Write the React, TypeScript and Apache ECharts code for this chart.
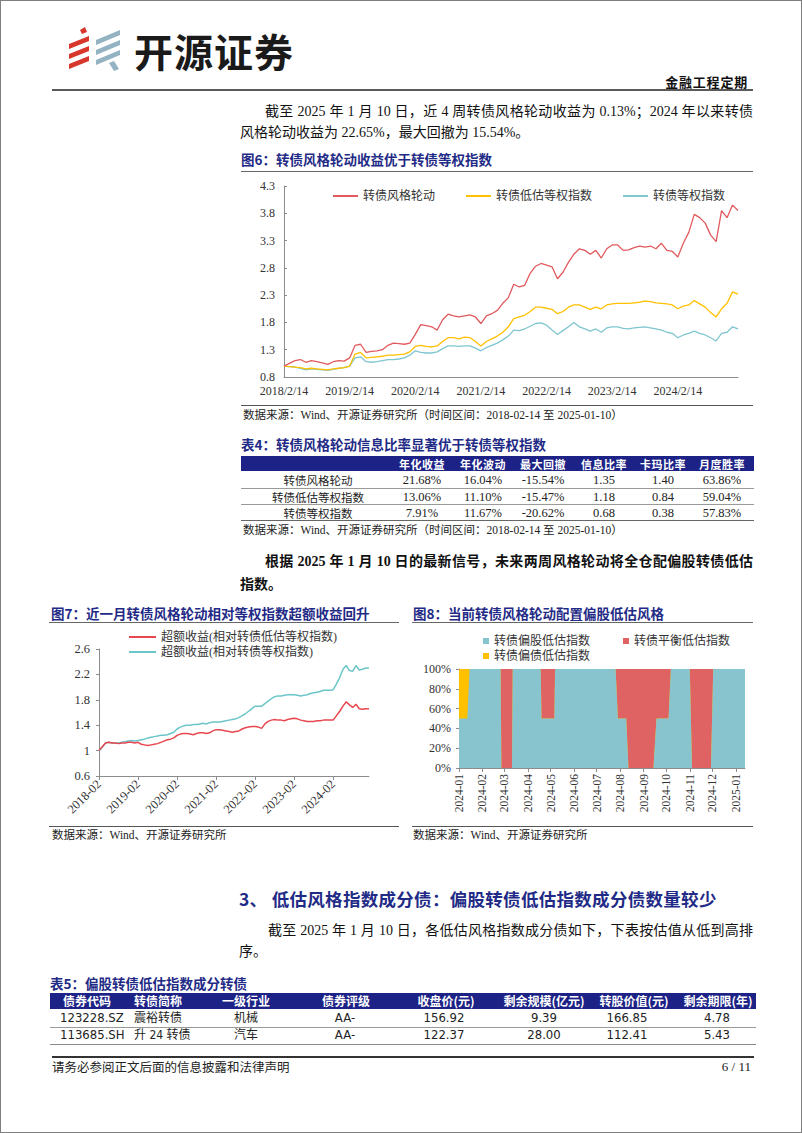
import React, { useEffect, useRef } from 'react';
import * as echarts from 'echarts';

const SERIF = "'Liberation Serif','Times New Roman','Noto Sans CJK SC',serif";
const CJK = "'Noto Sans CJK SC','Liberation Serif',sans-serif";
const NARROW = "'Liberation Sans Narrow','DejaVu Sans Condensed','Liberation Sans','Noto Sans CJK SC',sans-serif";
const NAVY = '#1F2B86';
const BAR = '#1D2286';

// ---------------- Figure 6 data (monthly, from 2018-02) ----------------
const fig6StartMonth = '2018-02';
const fig6Names = ['转债风格轮动', '转债低估等权指数', '转债等权指数'];
const fig6Rotation = [
  1.00, 1.05, 1.10, 1.12, 1.07, 1.10, 1.08, 1.06, 1.03, 1.08, 1.10,
  1.09, 1.15, 1.38, 1.40, 1.25, 1.27, 1.28, 1.30, 1.38, 1.42, 1.41, 1.40,
  1.42, 1.58, 1.76, 1.74, 1.72, 1.66, 1.85, 1.95, 1.92, 1.90, 1.92, 1.94,
  1.90, 1.78, 1.92, 1.96, 2.02, 2.15, 2.25, 2.50, 2.45, 2.48, 2.70, 2.83,
  2.88, 2.85, 2.82, 2.60, 2.72, 2.90, 3.05, 3.15, 3.12, 3.05, 3.12, 2.98,
  3.15, 3.22, 3.22, 3.12, 3.13, 3.17, 3.20, 3.18, 3.20, 3.15, 3.25, 3.12,
  3.10, 3.00, 3.25, 3.45, 3.78, 3.72, 3.62, 3.40, 3.28, 3.85, 3.72, 3.95,
  3.85,
];
const fig6LowValue = [
  1.00, 0.99, 0.98, 0.97, 0.95, 0.96, 0.95, 0.94, 0.93, 0.95, 0.96,
  0.97, 1.00, 1.22, 1.25, 1.15, 1.16, 1.17, 1.18, 1.20, 1.20, 1.21, 1.22,
  1.26, 1.36, 1.38, 1.36, 1.35, 1.37, 1.45, 1.52, 1.52, 1.50, 1.53, 1.52,
  1.45, 1.37, 1.45, 1.50, 1.55, 1.62, 1.72, 1.87, 1.90, 1.93, 2.00, 2.08,
  2.08, 2.06, 2.04, 1.96, 2.00, 2.08, 2.12, 2.12, 2.08, 2.04, 2.08, 2.05,
  2.12, 2.14, 2.15, 2.15, 2.15, 2.16, 2.17, 2.19, 2.18, 2.16, 2.15, 2.14,
  2.12, 2.05, 2.10, 2.12, 2.20, 2.14, 2.08, 1.98, 1.90, 2.05, 2.15, 2.36,
  2.32,
];
const fig6Equal = [
  1.00, 0.99, 0.98, 0.96, 0.93, 0.95, 0.94, 0.93, 0.92, 0.94, 0.96,
  0.97, 1.00, 1.15, 1.17, 1.08, 1.07, 1.08, 1.10, 1.12, 1.12, 1.13, 1.15,
  1.20, 1.28, 1.25, 1.24, 1.24, 1.26, 1.32, 1.37, 1.37, 1.36, 1.37, 1.37,
  1.33, 1.28, 1.34, 1.38, 1.42, 1.48, 1.55, 1.66, 1.65, 1.68, 1.73, 1.78,
  1.79, 1.75, 1.66, 1.58, 1.65, 1.72, 1.80, 1.72, 1.68, 1.64, 1.68, 1.62,
  1.70, 1.72, 1.72, 1.69, 1.68, 1.70, 1.71, 1.72, 1.70, 1.68, 1.66, 1.62,
  1.60, 1.52, 1.57, 1.60, 1.64, 1.60, 1.57, 1.52, 1.46, 1.60, 1.62, 1.72,
  1.68,
];
const fig6Ticks = [0.8, 1.3, 1.8, 2.3, 2.8, 3.3, 3.8, 4.3];

// ---------------- Figure 7 data (monthly, from 2018-02) ----------------
const fig7Names = ['超额收益(相对转债低估等权指数)', '超额收益(相对转债等权指数)'];
const fig7VsLowValue = [
  1.00, 1.06, 1.12, 1.13, 1.12, 1.12, 1.11, 1.12, 1.12, 1.13, 1.13,
  1.12, 1.13, 1.10, 1.09, 1.08, 1.09, 1.10, 1.11, 1.13, 1.15, 1.17, 1.18,
  1.20, 1.24, 1.26, 1.27, 1.27, 1.26, 1.25, 1.27, 1.28, 1.28, 1.27, 1.28,
  1.31, 1.33, 1.33, 1.32, 1.31, 1.30, 1.29, 1.30, 1.31, 1.34, 1.36, 1.37,
  1.38, 1.38, 1.37, 1.35, 1.42, 1.46, 1.48, 1.49, 1.48, 1.48, 1.47, 1.49,
  1.50, 1.51, 1.50, 1.48, 1.47, 1.46, 1.46, 1.46, 1.47, 1.47, 1.48, 1.48,
  1.48, 1.48, 1.55, 1.62, 1.70, 1.77, 1.72, 1.68, 1.73, 1.66, 1.65, 1.66,
  1.66,
];
const fig7VsEqual = [
  1.00, 1.05, 1.12, 1.13, 1.12, 1.12, 1.12, 1.13, 1.14, 1.15, 1.16,
  1.15, 1.16, 1.17, 1.18, 1.20, 1.21, 1.22, 1.23, 1.24, 1.24, 1.25, 1.27,
  1.29, 1.34, 1.37, 1.39, 1.40, 1.40, 1.41, 1.41, 1.42, 1.43, 1.42, 1.44,
  1.45, 1.45, 1.45, 1.46, 1.47, 1.48, 1.49, 1.50, 1.52, 1.55, 1.58, 1.62,
  1.66, 1.70, 1.70, 1.70, 1.74, 1.78, 1.82, 1.85, 1.86, 1.86, 1.87, 1.88,
  1.88, 1.88, 1.87, 1.86, 1.87, 1.88, 1.90, 1.91, 1.92, 1.93, 1.95, 1.95,
  1.95, 1.96, 2.05, 2.15, 2.28, 2.34, 2.26, 2.25, 2.34, 2.27, 2.28, 2.30,
  2.30,
];
const fig7Ticks = [0.6, 1, 1.4, 1.8, 2.2, 2.6];

// ---------------- Figure 8 data (allocation periods) ----------------
const fig8Names = ['转债偏股低估指数', '转债平衡低估指数', '转债偏债低估指数'];
const fig8PeriodStart = ['2024-01-01', '2024-01-15', '2024-02-26', '2024-03-12', '2024-04-19', '2024-05-07', '2024-07-29', '2024-08-12', '2024-09-18', '2024-10-07', '2024-11-04', '2024-12-02'];
const fig8PeriodEnd = ['2024-01-12', '2024-02-25', '2024-03-11', '2024-04-18', '2024-05-06', '2024-07-26', '2024-08-09', '2024-09-14', '2024-10-04', '2024-11-01', '2024-11-29', '2025-01-13'];
const fig8Stock = [50, 100, 0, 100, 50, 100, 50, 0, 50, 100, 0, 100];
const fig8Balance = [0, 0, 100, 0, 50, 0, 50, 100, 50, 0, 100, 0];
const fig8Debt = [50, 0, 0, 0, 0, 0, 0, 0, 0, 0, 0, 0];
const fig8MonthLabels = ['2024-01', '2024-02', '2024-03', '2024-04', '2024-05', '2024-06', '2024-07', '2024-08', '2024-09', '2024-10', '2024-11', '2024-12', '2025-01'];
const fig8AxisEnd = '2025-01-13';

// ---------------- Table 4 ----------------
const t4Headers = ['年化收益', '年化波动', '最大回撤', '信息比率', '卡玛比率', '月度胜率'];
const t4Names = ['转债风格轮动', '转债低估等权指数', '转债等权指数'];
const t4Values = [
  ['21.68%', '16.04%', '-15.54%', '1.35', '1.40', '63.86%'],
  ['13.06%', '11.10%', '-15.47%', '1.18', '0.84', '59.04%'],
  ['7.91%', '11.67%', '-20.62%', '0.68', '0.38', '57.83%'],
];

// ---------------- Table 5 ----------------
const t5Headers = ['债券代码', '转债简称', '一级行业', '债券评级', '收盘价(元)', '剩余规模(亿元)', '转股价值(元)', '剩余期限(年)'];
const t5Rows = [
  ['123228.SZ', '震裕转债', '机械', 'AA-', '156.92', '9.39', '166.85', '4.78'],
  ['113685.SH', '升 24 转债', '汽车', 'AA-', '122.37', '28.00', '112.41', '5.43'],
];

// ---------------- helpers ----------------
function monthSeq(start: string, n: number): string[] {
  let [y, m] = start.split('-').map(Number);
  const out: string[] = [];
  for (let i = 0; i < n; i++) {
    out.push(`${y}-${String(m).padStart(2, '0')}`);
    m++;
    if (m > 12) { m = 1; y++; }
  }
  return out;
}
function dayOf(s: string): number {
  const [y, m, d] = s.split('-').map(Number);
  return Math.round((Date.UTC(y, m - 1, d) - Date.UTC(2024, 0, 1)) / 86400000);
}

function EChart({ option, style }: { option: any; style: React.CSSProperties }) {
  const ref = useRef<HTMLDivElement>(null);
  useEffect(() => {
    const chart = echarts.init(ref.current!, null, { renderer: 'svg' });
    chart.setOption(option);
    return () => chart.dispose();
  }, []);
  return <div ref={ref} style={{ position: 'absolute', ...style }} />;
}

function Txt({ x, y, children, align = 'left', w = 300, lh = 20, style }: any) {
  let left = x;
  if (align === 'center') left = x - w / 2;
  if (align === 'right') left = x - w;
  return (
    <div style={{ position: 'absolute', left, top: y - lh / 2, width: align === 'left' ? undefined : w, height: lh, lineHeight: lh + 'px', textAlign: align, whiteSpace: 'nowrap', ...style }}>
      {children}
    </div>
  );
}
function JLine({ x, y, w, children, style }: any) {
  return (
    <div style={{ position: 'absolute', left: x, top: y - 11, width: w, height: 22, lineHeight: '22px', textAlign: 'justify', textAlignLast: 'justify' as any, overflow: 'visible', ...style }}>
      {children}
    </div>
  );
}
function Rule({ x, y, w, h = 1, color = '#555' }: any) {
  return <div style={{ position: 'absolute', left: x, top: y, width: w, height: h, background: color }} />;
}

// ---------------- chart options ----------------
const months6 = monthSeq(fig6StartMonth, fig6Rotation.length);
const fig6Colors = ['#E15A5E', '#FFC000', '#7FC6CF'];
const option6 = {
  animation: false,
  textStyle: { fontFamily: SERIF },
  grid: { left: 43, right: 15, top: 13, bottom: 26 },
  legend: {
    data: fig6Names, left: 87, top: 12, icon: 'rect', itemWidth: 25, itemHeight: 2, itemGap: 31,
    textStyle: { fontFamily: SERIF, fontSize: 12, color: '#333' },
  },
  xAxis: {
    type: 'category', data: months6, boundaryGap: false,
    axisLine: { lineStyle: { color: '#8c8c8c' } }, axisTick: { show: false },
    axisLabel: {
      interval: 11, margin: 8, fontSize: 12, color: '#333', fontFamily: SERIF,
      formatter: (v: string) => { const [y, m] = v.split('-'); return `${y}/${Number(m)}/14`; },
    },
  },
  yAxis: {
    type: 'value', min: 0.8, max: 4.3,
    axisLine: { show: true, lineStyle: { color: '#8c8c8c' } },
    axisTick: { show: true, inside: true, length: 3, customValues: fig6Ticks, lineStyle: { color: '#8c8c8c' } },
    axisLabel: { customValues: fig6Ticks, fontSize: 12, color: '#333', margin: 9, fontFamily: SERIF, formatter: (v: number) => v.toFixed(1) },
    splitLine: { show: false },
  },
  series: [fig6Rotation, fig6LowValue, fig6Equal].map((d, i) => ({
    name: fig6Names[i], type: 'line', data: d, symbol: 'none', color: fig6Colors[i],
    lineStyle: { width: 1.3, color: fig6Colors[i] }, z: 3 - i,
  })),
};

const fig7Colors = ['#E8474F', '#6CC6C9'];
const option7 = {
  animation: false,
  textStyle: { fontFamily: SERIF },
  grid: { left: 48, right: 30, top: 25, bottom: 50 },
  legend: {
    data: fig7Names, orient: 'vertical', left: 73, top: 2, icon: 'rect', itemWidth: 27, itemHeight: 2, itemGap: 3,
    textStyle: { fontFamily: SERIF, fontSize: 12, color: '#333', lineHeight: 12 },
  },
  xAxis: {
    type: 'category', data: months6, boundaryGap: false,
    axisLine: { lineStyle: { color: '#8c8c8c' } },
    axisTick: { show: true, interval: 11, length: 4, lineStyle: { color: '#8c8c8c' } },
    axisLabel: { interval: 11, rotate: 45, margin: 6, fontSize: 12.5, color: '#333', fontFamily: SERIF },
  },
  yAxis: {
    type: 'value', min: 0.6, max: 2.6,
    axisLine: { show: true, lineStyle: { color: '#8c8c8c' } },
    axisTick: { show: true, length: 3, customValues: fig7Ticks, lineStyle: { color: '#8c8c8c' } },
    axisLabel: { customValues: fig7Ticks, fontSize: 12.5, color: '#333', margin: 9, fontFamily: SERIF, formatter: (v: number) => String(v) },
    splitLine: { show: false },
  },
  series: [fig7VsLowValue, fig7VsEqual].map((d, i) => ({
    name: fig7Names[i], type: 'line', data: d, symbol: 'none', color: fig7Colors[i],
    lineStyle: { width: 1.5, color: fig7Colors[i] }, z: 3 - i,
  })),
};

const fig8Colors: Record<string, string> = { '转债偏股低估指数': '#88C4CD', '转债平衡低估指数': '#E06363', '转债偏债低估指数': '#FFC000' };
const fig8Points = (vals: number[]) =>
  fig8PeriodStart.flatMap((s, i) => [[dayOf(s), vals[i]], [dayOf(fig8PeriodEnd[i]), vals[i]]]);
const fig8TopBalance = fig8Stock.map((b, i) => b + fig8Debt[i] + fig8Balance[i]);
const fig8TopDebt = fig8Stock.map((b, i) => b + fig8Debt[i]);
const fig8MonthDays = fig8MonthLabels.map((l) => dayOf(l + '-01'));
const fig8Layers: [string, number[]][] = [
  ['转债平衡低估指数', fig8TopBalance],
  ['转债偏债低估指数', fig8TopDebt],
  ['转债偏股低估指数', fig8Stock],
];
const option8 = {
  animation: false,
  textStyle: { fontFamily: SERIF },
  grid: { left: 46, right: 8, top: 45, bottom: 58 },
  legend: [
    { data: [fig8Names[0], fig8Names[1]], left: 65, top: 6, icon: 'rect', itemWidth: 6, itemHeight: 6, itemGap: 33, textStyle: { fontFamily: SERIF, fontSize: 12, color: '#333' } },
    { data: [fig8Names[2]], left: 65, top: 21, icon: 'rect', itemWidth: 6, itemHeight: 6, textStyle: { fontFamily: SERIF, fontSize: 12, color: '#333' } },
  ],
  xAxis: {
    type: 'value', min: 0, max: dayOf(fig8AxisEnd),
    axisLine: { show: true, lineStyle: { color: '#8c8c8c' } },
    axisTick: { show: true, length: 4, customValues: fig8MonthDays, lineStyle: { color: '#8c8c8c' } },
    axisLabel: {
      customValues: fig8MonthDays, rotate: 90, margin: 6, fontSize: 11.5, color: '#333', fontFamily: SERIF,
      formatter: (v: number) => fig8MonthLabels[fig8MonthDays.indexOf(v)] ?? '',
    },
    splitLine: { show: false },
  },
  yAxis: {
    type: 'value', min: 0, max: 100, interval: 20,
    axisLine: { show: true, lineStyle: { color: '#8c8c8c' } },
    axisTick: { show: true, length: 3, lineStyle: { color: '#8c8c8c' } },
    axisLabel: { fontSize: 12, color: '#333', margin: 8, fontFamily: SERIF, formatter: '{value}%' },
    splitLine: { show: false },
  },
  series: fig8Layers.map(([name, vals]) => ({
    name, type: 'line', data: fig8Points(vals), symbol: 'none', showSymbol: false,
    color: fig8Colors[name], itemStyle: { color: fig8Colors[name] },
    lineStyle: { width: 0 }, areaStyle: { color: fig8Colors[name], opacity: 1 },
  })),
};

// ---------------- layout ----------------
const t4Centers = [317, 421, 482, 542, 603, 662, 721];
const t4RowY = [478.5, 495.5, 511.5];
const t5HeadCenters = [86, 157, 245, 345, 445, 543, 633, 717];
const t5CellCenters = [0, 0, 245, 344, 443, 543, 626, 716];
const t5RowY = [1017, 1034];

export default function App() {
  const body: React.CSSProperties = { fontFamily: SERIF, fontSize: 14, color: '#111' };
  const title: React.CSSProperties = { fontFamily: CJK, fontSize: 13.5, fontWeight: 700, color: NAVY };
  const src: React.CSSProperties = { fontFamily: SERIF, fontSize: 11.5, color: '#222' };
  return (
    <div style={{ position: 'absolute', left: 0, top: 0, width: 802, height: 1133, background: '#fff', border: '1px solid #7f7f7f', boxSizing: 'border-box', overflow: 'hidden' }}>
      {/* logo */}
      <svg style={{ position: 'absolute', left: 0, top: 0 }} width={130} height={80}>
        <g fill="#D8372C">
          <polygon points="79,29 84,26 86,31 81,33" />
          <polygon points="68,43 88,35 88,40 68,48" />
          <polygon points="68,53 88,45 88,50 68,58" />
          <polygon points="68,63 88,55 88,60 68,68" />
        </g>
        <g fill="#93B2C2">
          <polygon points="95,39 119,29 119,34 95,44" />
          <polygon points="95,49 119,39 119,44 95,54" />
          <polygon points="95,59 119,49 119,54 95,64" />
          <polygon points="108,62 113,60 118,68 113,70" />
        </g>
      </svg>
      <Txt x={133} y={49} lh={44} style={{ fontFamily: CJK, fontSize: 39, fontWeight: 700, color: '#1a1a1a', letterSpacing: 1 }}>开源证券</Txt>
      <Txt x={747} y={81} align="right" w={200} style={{ fontFamily: CJK, fontSize: 13, fontWeight: 700, color: '#111', letterSpacing: 0.8 }}>金融工程定期</Txt>
      <Rule x={51} y={88} w={701} h={2} color="#5a5a5a" />

      {/* paragraph 1 */}
      <JLine x={264} y={110.5} w={488} style={body}>截至 2025 年 1 月 10 日，近 4 周转债风格轮动收益为 0.13%；2024 年以来转债</JLine>
      <Txt x={239} y={132} style={body}>风格轮动收益为 22.65%，最大回撤为 15.54%。</Txt>

      {/* figure 6 */}
      <Txt x={240} y={158} style={title}>图6：转债风格轮动收益优于转债等权指数</Txt>
      <Rule x={240} y={170} w={512} h={1} color="#666" />
      <EChart option={option6} style={{ left: 240, top: 172, width: 512, height: 230 }} />
      <Rule x={240} y={404} w={512} h={1} color="#555" />
      <Txt x={242} y={414} style={src}>数据来源：Wind、开源证券研究所（时间区间：2018-02-14 至 2025-01-10）</Txt>

      {/* table 4 */}
      <Txt x={240} y={443} style={title}>表4：转债风格轮动信息比率显著优于转债等权指数</Txt>
      <div style={{ position: 'absolute', left: 240, top: 455, width: 513, height: 15, background: BAR }} />
      {t4Headers.map((h, i) => (
        <Txt key={h} x={t4Centers[i + 1]} y={462.5} align="center" w={70} style={{ fontFamily: CJK, fontSize: 11, fontWeight: 700, color: '#fff', letterSpacing: 0.5 }}>{h}</Txt>
      ))}
      {t4Names.map((n, r) => (
        <React.Fragment key={n}>
          <Txt x={t4Centers[0]} y={t4RowY[r]} align="center" w={140} style={{ fontFamily: CJK, fontSize: 11.5, color: '#222' }}>{n}</Txt>
          {t4Values[r].map((v, c) => (
            <Txt key={c} x={t4Centers[c + 1]} y={t4RowY[r]} align="center" w={70} style={{ fontFamily: SERIF, fontSize: 12.5, color: '#222' }}>{v}</Txt>
          ))}
        </React.Fragment>
      ))}
      <Rule x={240} y={486.5} w={513} h={1} color="#9a9a9a" />
      <Rule x={240} y={503} w={513} h={1} color="#9a9a9a" />
      <Rule x={240} y={518.5} w={513} h={1.5} color="#666" />
      <Txt x={242} y={529} style={src}>数据来源：Wind、开源证券研究所（时间区间：2018-02-14 至 2025-01-10）</Txt>

      {/* paragraph 2 (bold) */}
      <JLine x={264} y={561} w={488} style={{ ...body, fontWeight: 700 }}>根据 2025 年 1 月 10 日的最新信号，未来两周风格轮动将全仓配偏股转债低估</JLine>
      <Txt x={239} y={584} style={{ ...body, fontWeight: 700 }}>指数。</Txt>

      {/* figure 7 */}
      <Txt x={50} y={612} style={title}>图7：近一月转债风格轮动相对等权指数超额收益回升</Txt>
      <Rule x={48} y={621} w={350} h={1} color="#666" />
      <EChart option={option7} style={{ left: 50, top: 623, width: 348, height: 202 }} />
      <Rule x={48} y={825} w={350} h={1} color="#555" />
      <Txt x={51} y={834} style={src}>数据来源：Wind、开源证券研究所</Txt>

      {/* figure 8 */}
      <Txt x={412} y={612} style={title}>图8：当前转债风格轮动配置偏股低估风格</Txt>
      <Rule x={411} y={621} w={341} h={1} color="#666" />
      <EChart option={option8} style={{ left: 412, top: 623, width: 340, height: 202 }} />
      <Rule x={411} y={825} w={341} h={1} color="#555" />
      <Txt x={412} y={834} style={src}>数据来源：Wind、开源证券研究所</Txt>

      {/* section 3 */}
      <Txt x={238} y={898} lh={26} style={{ fontFamily: CJK, fontSize: 17.5, fontWeight: 700, color: NAVY, letterSpacing: 0.3 }}>3、 低估风格指数成分债：偏股转债低估指数成分债数量较少</Txt>
      <JLine x={267} y={930} w={485} style={body}>截至 2025 年 1 月 10 日，各低估风格指数成分债如下，下表按估值从低到高排</JLine>
      <Txt x={238} y={951} style={body}>序。</Txt>

      {/* table 5 */}
      <Txt x={49} y={982} style={title}>表5：偏股转债低估指数成分转债</Txt>
      <div style={{ position: 'absolute', left: 49, top: 992, width: 706, height: 16, background: BAR }} />
      {t5Headers.map((h, i) => (
        <Txt key={h} x={t5HeadCenters[i]} y={1000} align="center" w={110} style={{ fontFamily: CJK, fontSize: 12, fontWeight: 700, color: '#fff' }}>{h}</Txt>
      ))}
      {t5Rows.map((row, r) => (
        <React.Fragment key={r}>
          <Txt x={59} y={t5RowY[r]} style={{ fontFamily: NARROW, fontSize: 13, color: '#222' }}>{row[0]}</Txt>
          <Txt x={133} y={t5RowY[r]} style={{ fontFamily: NARROW, fontSize: 12, color: '#222' }}>{row[1]}</Txt>
          {row.slice(2).map((v, c) => (
            <Txt key={c} x={t5CellCenters[c + 2]} y={t5RowY[r]} align="center" w={90} style={{ fontFamily: NARROW, fontSize: c === 0 ? 12 : 13, color: '#222' }}>{v}</Txt>
          ))}
        </React.Fragment>
      ))}
      <Rule x={49} y={1025.5} w={706} h={1} color="#9a9a9a" />
      <Rule x={49} y={1042.5} w={706} h={1.5} color="#8a8a8a" />

      {/* footer */}
      <Rule x={51} y={1055} w={702} h={1.5} color="#333" />
      <Txt x={51} y={1066} style={{ fontFamily: CJK, fontSize: 12.5, color: '#222' }}>请务必参阅正文后面的信息披露和法律声明</Txt>
      <Txt x={750} y={1066} align="right" w={80} style={{ fontFamily: SERIF, fontSize: 13, color: '#222' }}>6 / 11</Txt>
    </div>
  );
}
